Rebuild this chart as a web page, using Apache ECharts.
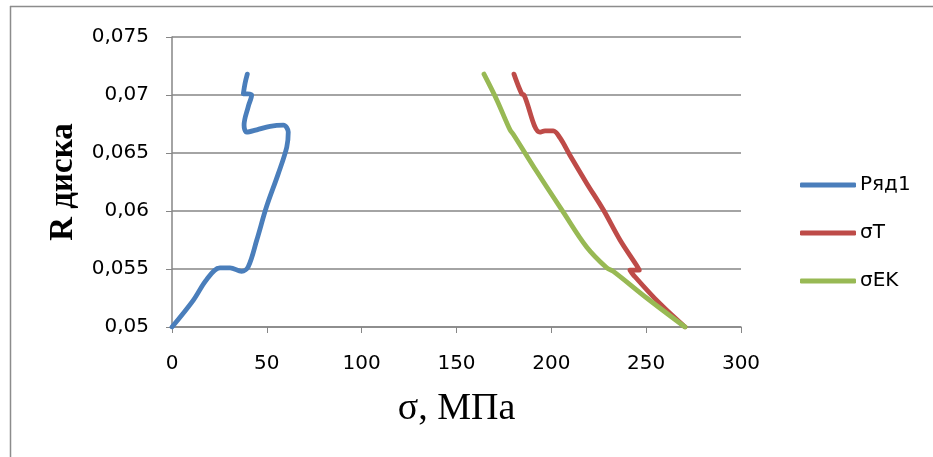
<!DOCTYPE html>
<html>
<head>
<meta charset="utf-8">
<script src="https://cdn.jsdelivr.net/npm/echarts@6/dist/echarts.min.js"></script>
<style>html,body{margin:0;padding:0;background:#fff;}#c{width:933px;height:457px;}</style>
</head>
<body>
<div id="c"></div>
<script>
const seriesNames = ['Ряд1', 'σT', 'σEK'];
const xTicks = [0, 50, 100, 150, 200, 250, 300];
const yTicks = [0.05, 0.055, 0.06, 0.065, 0.07, 0.075];

// [sigma, R] pairs
const ryad1 = [
  [0, 0.05], [11.2, 0.0523], [18.3, 0.0541], [25.3, 0.0551], [30.6, 0.0551],
  [36.7, 0.0548], [40.2, 0.0552], [44.7, 0.0575], [49.9, 0.0604], [56.0, 0.0632],
  [60.5, 0.0655], [61.3, 0.0668], [58.7, 0.0674], [51.7, 0.0673], [44.7, 0.0670],
  [39.4, 0.0668], [38.0, 0.0674], [40.2, 0.0690], [42.0, 0.0700], [39.7, 0.0701],
  [37.6, 0.0701], [38.5, 0.0710], [39.7, 0.0718]
];
const sigmaT = [
  [270.5, 0.05], [257.3, 0.0520], [243.2, 0.0545], [241.5, 0.0549], [246.4, 0.0549],
  [245.0, 0.0553], [236.2, 0.0575], [227.4, 0.0601], [218.6, 0.0624], [209.8, 0.0648],
  [204.6, 0.0663], [201.0, 0.0669], [196.7, 0.0669], [194.0, 0.0668], [185.6, 0.0700],
  [184.4, 0.0701], [180.3, 0.0718]
];
const sigmaEK = [
  [270.5, 0.05], [250.3, 0.0525], [232.7, 0.0548], [229.2, 0.0551], [218.6, 0.0569],
  [206.3, 0.0599], [192.3, 0.0634], [180.0, 0.0666], [178.2, 0.0670], [171.2, 0.0696],
  [164.5, 0.0718]
];
const colors = ['#4A7EBB', '#BE4B48', '#98B954'];
const dataSets = [ryad1, sigmaT, sigmaEK];

const chart = echarts.init(document.getElementById('c'));
const axisGray = '#868686';
const sans = 'DejaVu Sans';
chart.setOption({
  animation: false,
  backgroundColor: '#fff',
  grid: { left: 172, top: 37, width: 569, height: 290, containLabel: false },
  graphic: [
    { type: 'line', shape: { x1: 10, y1: 6.5, x2: 933, y2: 6.5 }, style: { stroke: '#8c8c8c', lineWidth: 1.5 } },
    { type: 'line', shape: { x1: 10.5, y1: 6, x2: 10.5, y2: 457 }, style: { stroke: '#8c8c8c', lineWidth: 1.5 } }
  ],
  legend: {
    orient: 'vertical', left: 800, top: 175, itemGap: 28, padding: 0,
    itemWidth: 56, itemHeight: 5, icon: 'roundRect',
    textStyle: { fontFamily: sans, fontSize: 20, lineHeight: 20, color: '#000', padding: [0, 0, 0, -1] },
    data: seriesNames
  },
  xAxis: {
    type: 'value', min: xTicks[0], max: xTicks[xTicks.length - 1], interval: 50,
    name: 'σ, МПа', nameLocation: 'middle', nameGap: 63,
    nameTextStyle: { fontFamily: 'Liberation Serif', fontSize: 38, color: '#000' },
    axisLine: { show: true, lineStyle: { color: axisGray, width: 1.5 } },
    axisTick: { show: true, length: 6, lineStyle: { color: axisGray } },
    axisLabel: { fontFamily: sans, fontSize: 20, color: '#000', margin: 27 },
    splitLine: { show: false }
  },
  yAxis: {
    type: 'value', min: yTicks[0], max: yTicks[yTicks.length - 1], interval: 0.005,
    name: 'R диска', nameLocation: 'middle', nameGap: 92, nameRotate: 90,
    nameTextStyle: { fontFamily: 'Liberation Serif', fontSize: 33, fontWeight: 'bold', color: '#000' },
    axisLine: { show: true, lineStyle: { color: axisGray, width: 1.5 } },
    axisTick: { show: true, inside: false, length: 6, lineStyle: { color: axisGray } },
    axisLabel: {
      fontFamily: sans, fontSize: 20, color: '#000', margin: 23,
      formatter: v => String(Math.round(v * 1000) / 1000).replace('.', ',')
    },
    splitLine: { show: true, lineStyle: { color: axisGray, width: 1.5 } }
  },
  series: dataSets.map((d, i) => ({
    name: seriesNames[i], type: 'line', data: d, smooth: 0.35,
    showSymbol: false, symbol: 'none',
    lineStyle: { color: colors[i], width: 4.8, cap: 'round', join: 'round' },
    itemStyle: { color: colors[i] }
  }))
});
</script>
</body>
</html>
